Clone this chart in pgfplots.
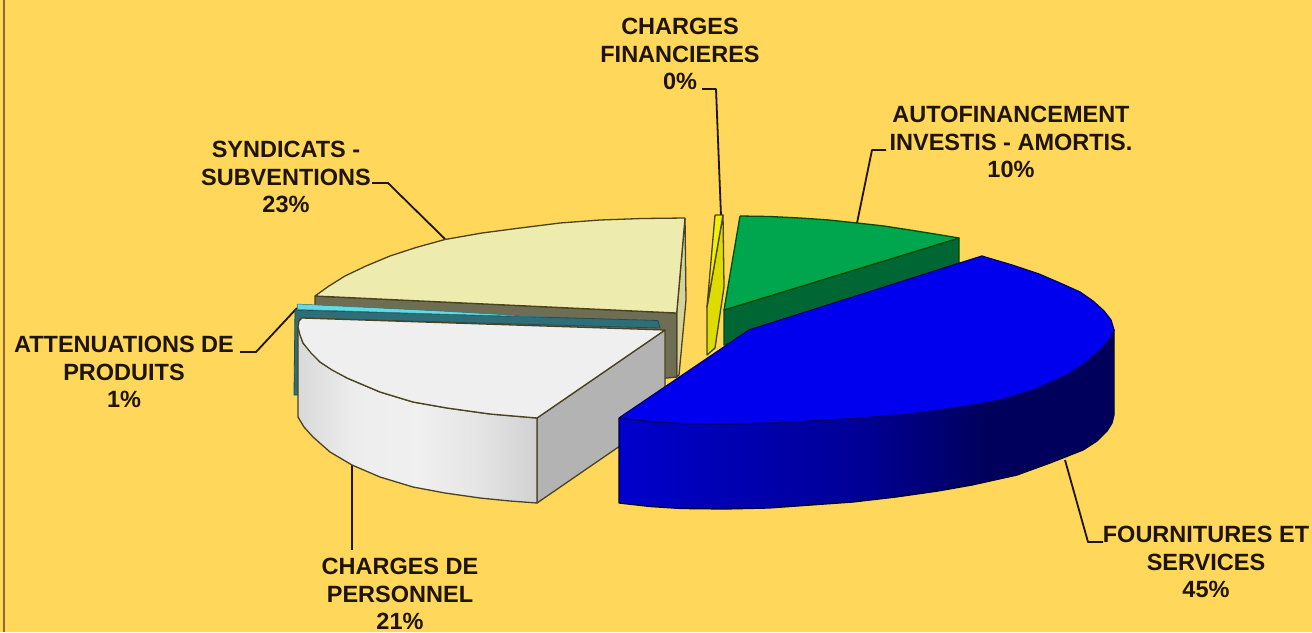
\documentclass[border=0pt]{standalone}
\usepackage{pgfplots}
\pgfplotsset{compat=1.18}
\usepackage{fontspec}
\setmainfont{Liberation Sans}
\definecolor{bg}{HTML}{FFD75A}
\definecolor{ink}{HTML}{1E1400}
\definecolor{edge}{HTML}{4A4220}
\definecolor{beigeTop}{HTML}{EEEBAF}
\definecolor{beigeSide}{HTML}{D6D39A}
\definecolor{olive}{HTML}{6E6E55}
\definecolor{teal1}{HTML}{2E6E78}
\definecolor{cyan1}{HTML}{5FDCE4}
\definecolor{whiteTop}{HTML}{EFEFEF}
\definecolor{whiteSide}{HTML}{B3B3B3}
\definecolor{yel1}{HTML}{F0F000}
\definecolor{yel2}{HTML}{DCDC00}
\definecolor{greenTop}{HTML}{00A64D}
\definecolor{greenSide}{HTML}{006633}
\definecolor{blueTop}{HTML}{0000EE}
\pgfdeclarehorizontalshading{whiteWall}{100bp}{rgb(0bp)=(0.85,0.85,0.85);rgb(25bp)=(0.85,0.85,0.85);rgb(37bp)=(0.93,0.93,0.93);rgb(50bp)=(0.94,0.94,0.94);rgb(62bp)=(0.90,0.90,0.90);rgb(75bp)=(0.82,0.82,0.82);rgb(100bp)=(0.82,0.82,0.82)}
\pgfdeclarehorizontalshading{blueWall}{100bp}{rgb(0bp)=(0,0,0.8);rgb(25bp)=(0,0,0.8);rgb(50bp)=(0,0,0.58);rgb(62bp)=(0,0,0.36);rgb(100bp)=(0,0,0.36)}
\newcommand{\lab}[3]{\node[align=center,inner sep=0pt,text=ink,font=\fontsize{23.5}{27.5}\selectfont\bfseries] at (axis cs:#1,#2) {#3};}
\begin{document}
\begin{tikzpicture}
\begin{axis}[
  scale only axis, width=1312pt, height=632pt,
  xmin=0, xmax=1312, ymin=0, ymax=632, y dir=reverse,
  hide axis, clip=true,
  every axis plot/.append style={line width=1.3pt, line join=round, mark=none},
]
% background
\addplot[fill=bg, draw=none] coordinates {(0,0)(1312,0)(1312,632)(0,632)(0,0)};
\addplot[draw={rgb,255:red,140;green,108;blue,40}, line width=2pt] coordinates {(3.7,0)(3.7,632)};
% leaders
\addplot[ink, line width=1.8pt] coordinates {(702,89)(716,89)(721,216)};
\addplot[ink, line width=1.8pt] coordinates {(886,150)(872,150)(857,223)};
\addplot[ink, line width=1.8pt] coordinates {(372,183)(388,183)(445,239)};
\addplot[ink, line width=1.8pt] coordinates {(240,352)(256,352)(297,308)};
\addplot[ink, line width=1.8pt] coordinates {(352,465)(352,550)};
\addplot[ink, line width=1.8pt] coordinates {(1065,460)(1088,542)(1103,542)};
% syndicats
\addplot[fill=beigeSide, draw=edge] coordinates {(685,218)(686,300)(679,375)(676.7,377)(676.7,313)(685,218)};
\addplot[fill=olive, draw=edge] coordinates {(315,296)(676.7,313)(676.7,377)(600,385)(315,318)(315,296)};
\addplot[fill=beigeTop, draw=edge] coordinates {(685,218)(642,218.5)(600,220)(560,223)(520,228)(482,233)(445,239.5)(416,247.5)(390,256)(366,266)(345,276)(329,286)(315,296)(676.7,313)(685,218)};
% attenuations
\addplot[fill=teal1, draw=teal1!70!black, line width=0.8pt] coordinates {(295,310)(658,320.5)(660,328)(300,318)(300,395)(294,395)(295,310)};
\addplot[fill=cyan1, draw=teal1, line width=0.5pt] coordinates {(297,304)(440,311)(545,317)(440,314)(298,309.5)(297,304)};
% charges de personnel
\addplot[fill=whiteSide, draw=edge] coordinates {(665,330)(537,418)(537,503)(665,415)(665,330)};
\addplot[shade, shading=whiteWall, draw=edge] coordinates {(298,327)(303,343)(320,362)(347,378)(380,392)(413,402)(447,408)(490,414)(537,418)(537,503)(510,501)(480,498)(445,493)(413,487)(380,477)(352,465)(330,452)(313,437)(304,427)(298,417)(298,327)};
\addplot[fill=whiteTop, draw=edge] coordinates {(302,318)(299,321)(298,327)(300,335)(303,343)(311,353)(320,362)(332,370)(347,378)(380,392)(413,402)(447,408)(490,414)(537,418)(665,330)(302,318)};
% charges financieres
\addplot[fill=yel2, draw=edge] coordinates {(723,215)(724,287)(715,348)(707,355)(707,307)(723,215)};
\addplot[fill=yel1, draw=edge] coordinates {(715,215)(723,215)(707,307)(715,215)};
% autofinancement
\addplot[fill=greenSide, draw=black!70!green] coordinates {(724,310)(959,238)(959,263)(724,345)(724,310)};
\addplot[fill=greenTop, draw=black!70!green] coordinates {(740,216)(770,216.5)(800,218)(829,220)(857,223)(884,226)(910,230)(935,234)(959,238)(724,310)(740,216)};
% fournitures
\addplot[shade, shading=blueWall, draw={rgb,255:red,0;green,0;blue,50}] coordinates {(619,418)(650,421.5)(681,423.5)(725,424)(769,423)(811,421)(853,418.5)(900,415)(933,411)(967,406)(1000,400)(1033,390)(1067,375)(1085,363)(1100,350)(1110,339)(1114,330)(1114,415)(1112,423)(1107,431)(1097,441)(1083,450)(1050,463)(1017,475)(972,485)(938,491)(896,497)(853,502)(811,505)(769,508)(725,509)(681,508.5)(650,506.5)(619,503)(619,418)};
\addplot[fill=blueTop, draw={rgb,255:red,0;green,0;blue,110}] coordinates {(619,418)(749,330)(982,256)(985,257)(1012,265)(1039,274)(1060,283)(1080,292)(1093,301)(1104,311)(1111,320)(1114,330)(1110,339)(1100,350)(1085,363)(1067,375)(1033,390)(1000,400)(967,406)(933,411)(900,415)(853,418.5)(811,421)(769,423)(725,424)(681,423.5)(650,421.5)(619,418)};
% labels
\lab{680}{54}{CHARGES\\FINANCIERES\\0\%}
\lab{1011}{142}{AUTOFINANCEMENT\\INVESTIS - AMORTIS.\\10\%}
\lab{286}{177}{SYNDICATS -\\SUBVENTIONS\\23\%}
\lab{124}{372}{ATTENUATIONS DE\\PRODUITS\\1\%}
\lab{400}{594}{CHARGES DE\\PERSONNEL\\21\%}
\lab{1206}{562}{FOURNITURES ET\\SERVICES\\45\%}
\end{axis}
\end{tikzpicture}
\end{document}
